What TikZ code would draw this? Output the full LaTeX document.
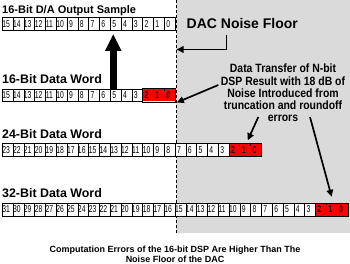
\documentclass[tikz,border=0pt]{standalone}
\usepackage{fontspec}
\setmainfont{Liberation Sans}
\newfontfamily\narrowfont[FakeStretch=0.87]{Liberation Sans}
\newfontfamily\cellfont[FakeStretch=0.68]{Liberation Sans}
\usetikzlibrary{arrows.meta}
\definecolor{floorgray}{RGB}{218,218,218}
\newcommand{\cellnum}[1]{\kern-3pt#1}
\tikzset{
  bitcell/.style={draw=black, line width=0.5pt, fill=white, minimum width=10.8pt,
    minimum height=12.8pt, inner sep=0pt, anchor=north west,
    font=\cellfont\fontsize{10}{10}\selectfont},
  redcell/.style={bitcell, draw=none, fill=none, text=black,
    font=\cellfont\bfseries\fontsize{10}{10}\selectfont},
  rowlabel/.style={anchor=base west, inner sep=0pt, font=\bfseries\fontsize{12.4}{12.4}\selectfont},
  bigarrow/.style={line width=7pt, -{Triangle[length=17pt,width=15pt]}},
  thinarrow/.style={line width=1.7pt, -{Triangle[length=7pt,width=6.5pt]}},
}
\newcommand{\drawbitrow}[4]{%
  \foreach \i in {0,...,#2} {%
    \pgfmathtruncatemacro\n{#2-\i}%
    \ifnum\n<#4\relax
      \fill[red] ({2+\i*10.8},#3) rectangle ++(10.8,12.8);
      \node[redcell] (#1\n) at ({2+\i*10.8},#3) {\cellnum{\n}};
    \else
      \node[bitcell] (#1\n) at ({2+\i*10.8},#3) {\cellnum{\n}};
    \fi
  }%
}
\begin{document}
\begin{tikzpicture}[x=1pt,y=-1pt]
  \useasboundingbox (0,0) rectangle (350,263);
  \fill[white] (0,0) rectangle (350,263);
  % noise floor region
  \fill[floorgray] (176,0) rectangle (350,232.5);
  \draw[line width=0.8pt, dash pattern=on 3pt off 2pt] (176,0) -- (176,232.5);

  % labels
  \node[rowlabel, font=\bfseries\fontsize{11}{11}\selectfont] (lab1) at (2,13.3) {16-Bit D/A Output Sample};
  \node[rowlabel] (lab2) at (2,83.5) {16-Bit Data Word};
  \node[rowlabel] (lab3) at (2,138.5) {24-Bit Data Word};
  \node[rowlabel] (lab4) at (2,197.3) {32-Bit Data Word};

  % rows of bits
  \drawbitrow{a}{15}{17}{0}
  \drawbitrow{b}{15}{88.5}{3}
  \drawbitrow{c}{23}{143.3}{3}
  \drawbitrow{d}{31}{202.8}{3}

  % outlines of red blocks
  \foreach \r in {b,c,d} {
    \draw[line width=0.5pt] (\r2.north west) rectangle (\r0.south east);
    \draw[line width=0.5pt] (\r1.north west) -- ++(0,2.5);
    \draw[line width=0.5pt] (\r0.north west) -- ++(0,2.5);
  }

  % big arrow
  \draw[bigarrow] ([xshift=-2.4pt]b5.north) -- ([xshift=-2.4pt,yshift=-3.5pt]a5.south);

  % DAC noise floor label
  \node[anchor=base west, inner sep=0pt, font=\bfseries\fontsize{14}{14}\selectfont] (dac) at (186.5,28.3) {DAC Noise Floor};
  \coordinate (floorA) at (176.5,49.5);
  \draw[thinarrow] ([xshift=40pt,yshift=-6.5pt]dac.south west) |- (floorA);

  % explanation text
  \node[anchor=base, inner sep=0pt, font=\narrowfont\bfseries\fontsize{12}{12.1}\selectfont] (dsp) at (283,72.7)
    {\begin{tabular}[t]{@{}c@{}}Data Transfer of N-bit\\DSP Result with 18 dB of\\Noise Introduced from\\truncation and roundoff\\errors\end{tabular}};
  \coordinate (bStart) at (218.3,85);
  \coordinate (floorB) at (176.8,102.5);
  \coordinate (cStart) at (258.3,117);
  \coordinate (dStart) at (310,117);
  \draw[thinarrow] (bStart) -- (floorB);
  \draw[thinarrow] (cStart) -- ([xshift=2.5pt,yshift=3pt]c1.north);
  \draw[thinarrow] (dStart) -- ([yshift=6pt]d1.north);

  % caption
  \node[anchor=base, inner sep=0pt, font=\bfseries\fontsize{9}{10}\selectfont] (cap) at (175,252)
    {\begin{tabular}[t]{@{}c@{}}Computation Errors of the 16-bit DSP Are Higher Than The\\Noise Floor of the DAC\end{tabular}};
\end{tikzpicture}
\end{document}
